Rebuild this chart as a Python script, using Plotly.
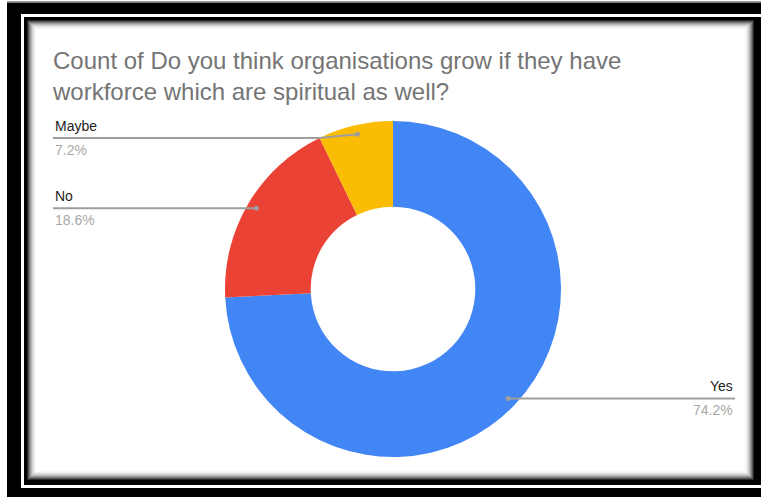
import math
import plotly.graph_objects as go

# Survey answers and their share of responses (%)
categories = ["Yes", "No", "Maybe"]
values = [74.2, 18.6, 7.2]
colors = ["#4285F4", "#EA4335", "#FBBC04"]

title_lines = [
    "Count of Do you think organisations grow if they have",
    "workforce which are spiritual as well?",
]

W, H = 761, 497


def fx(px):
    return px / W


def fy(py):
    return 1 - py / H


# donut geometry in pixels
CX, CY, R = 393, 289, 168
DOT_R = 0.945 * R

fig = go.Figure(
    go.Pie(
        labels=categories,
        values=values,
        marker=dict(colors=colors, line=dict(width=0)),
        hole=0.49,
        sort=False,
        direction="clockwise",
        rotation=0,
        textinfo="none",
        hoverinfo="label+percent",
        showlegend=False,
        domain=dict(x=[fx(CX - R), fx(CX + R)], y=[fy(CY + R), fy(CY - R)]),
    )
)

shapes = []

# picture frame: black border, thin white rule, inner black band, soft shadow
shapes.append(dict(type="line", xref="paper", yref="paper", x0=fx(7), x1=fx(780),
                   y0=fy(1.5), y1=fy(1.5), line=dict(color="#9a9a9a", width=1), layer="below"))
shapes.append(dict(type="rect", xref="paper", yref="paper", x0=fx(7), x1=fx(780),
                   y0=fy(520), y1=fy(2.5), fillcolor="#000000", line=dict(width=0), layer="below"))
shapes.append(dict(type="rect", xref="paper", yref="paper", x0=fx(21), x1=fx(780),
                   y0=fy(488), y1=fy(14), fillcolor="#ffffff", line=dict(width=0), layer="below"))
shapes.append(dict(type="rect", xref="paper", yref="paper", x0=fx(24), x1=fx(780),
                   y0=fy(485), y1=fy(17), fillcolor="#000000", line=dict(width=0), layer="below"))
steps = 11
for i in range(steps):
    t = i / (steps - 1)
    g = int(40 + (255 - 40) * (1 - (1 - t) ** 2.2))
    shapes.append(dict(type="rect", xref="paper", yref="paper",
                       x0=fx(27 + i), x1=fx(754 - i), y0=fy(480 - i), y1=fy(20 + i),
                       fillcolor=f"rgb({g},{g},{g})", line=dict(width=0), layer="below"))

annotations = [
    dict(text="<br>".join(title_lines), x=fx(50), y=fy(45), xref="paper", yref="paper",
         xanchor="left", yanchor="top", align="left", showarrow=False,
         font=dict(family="Arial", size=24, color="#757575"))
]

# outside labels with leader lines
label_side = {"Yes": "right", "No": "left", "Maybe": "left"}
label_line_y = {"Maybe": 138}
LEFT_X, RIGHT_X = 53, 735
total = sum(values)
cum = 0.0
for cat, v in zip(categories, values):
    mid = (cum + v / 2) / total
    cum += v
    ang = 2 * math.pi * mid
    dx, dy = CX + DOT_R * math.sin(ang), CY - DOT_R * math.cos(ang)
    ly = label_line_y.get(cat, dy)
    side = label_side[cat]
    end_x = LEFT_X if side == "left" else RIGHT_X
    if abs(ly - dy) > 0.5:
        bend_x = dx - 38 if side == "left" else dx + 38
        path = f"M {fx(end_x)},{fy(ly)} L {fx(bend_x)},{fy(ly)} L {fx(dx)},{fy(dy)}"
    else:
        path = f"M {fx(end_x)},{fy(ly)} L {fx(dx)},{fy(dy)}"
    shapes.append(dict(type="path", xref="paper", yref="paper", path=path,
                       line=dict(color="#9e9e9e", width=2), layer="above"))
    shapes.append(dict(type="circle", xref="paper", yref="paper",
                       x0=fx(dx - 2.5), x1=fx(dx + 2.5), y0=fy(dy + 2.5), y1=fy(dy - 2.5),
                       fillcolor="#9e9e9e", line=dict(width=0), layer="above"))
    anchor = "left" if side == "left" else "right"
    annotations.append(dict(text=cat, x=fx(end_x), y=fy(ly - 2), xref="paper", yref="paper",
                            xanchor=anchor, yanchor="bottom", showarrow=False,
                            font=dict(family="Arial", size=14, color="#222222")))
    annotations.append(dict(text=f"{v:.1f}%", x=fx(end_x), y=fy(ly + 2), xref="paper", yref="paper",
                            xanchor=anchor, yanchor="top", showarrow=False,
                            font=dict(family="Arial", size=14, color="#a8a8a8")))

fig.update_layout(
    width=W,
    height=H,
    margin=dict(l=0, r=0, t=0, b=0),
    paper_bgcolor="#ffffff",
    plot_bgcolor="#ffffff",
    shapes=shapes,
    annotations=annotations,
)

fig.write_html("out.html", config={"displayModeBar": False})
